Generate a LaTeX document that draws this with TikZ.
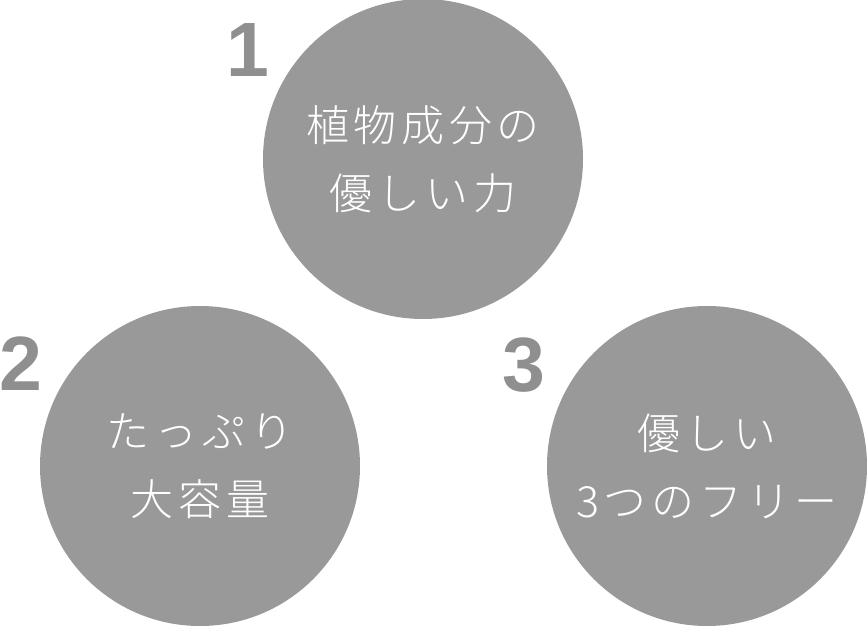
\documentclass[tikz,border=0pt]{standalone}
\usepackage{fontspec}
\setmainfont{Liberation Sans}
\newfontfamily\jpfont[LetterSpace=11]{Noto Sans CJK JP Light}
\definecolor{ballgray}{HTML}{999999}
\definecolor{numgray}{HTML}{8F8F8F}
\begin{document}
\begin{tikzpicture}[x=1pt, y=1pt,
    ball/.style={circle, fill=ballgray, minimum size=320pt, inner sep=0pt,
        text=white, align=center, font=\jpfont\fontsize{43}{68}\selectfont},
    num/.style={text=numgray, inner sep=0pt, font=\bfseries\fontsize{77}{77}\selectfont}]
    \useasboundingbox (0,0) rectangle (867,626);
    \node[ball] (plant) at (423,467) {植物成分の\\優しい力};
    \node[ball] (volume) at (200,160) {たっぷり\\大容量};
    \node[ball] (free) at (707,160) {優しい\\3つのフリー};
    \node[num] (one) at (248,576) {1};
    \node[num] (two) at (21,262) {2};
    \node[num] (three) at (524,261) {3};
\end{tikzpicture}
\end{document}
